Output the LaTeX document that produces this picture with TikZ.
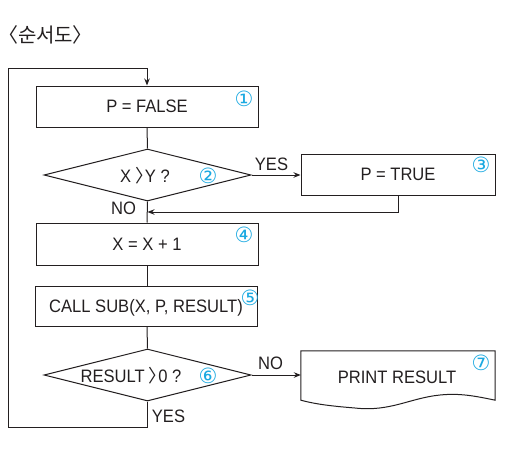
\documentclass[tikz,border=0pt]{standalone}
\usepackage{fontspec}
\setmainfont[FakeStretch=0.92]{Liberation Sans}
\newfontfamily\kr[RawFeature=+palt]{Noto Sans CJK KR}
\newfontfamily\dv{DejaVu Sans}
\usetikzlibrary{shapes.geometric,arrows.meta}
\definecolor{ink}{HTML}{231F20}
\definecolor{cy}{HTML}{1BA9E1}
\begin{document}
\begin{tikzpicture}[x=1pt,y=-1pt,
  every node/.style={font=\fontsize{18}{21}\selectfont, text=ink},
  txt/.style={inner sep=0pt, text height=12.9pt, text depth=0pt},
  proc/.style={txt, draw=ink, line width=1pt, minimum width=222pt, minimum height=41pt},
  dec/.style={diamond, draw=ink, line width=1pt, minimum width=207pt, minimum height=52pt, inner sep=0pt},
  num/.style={font=\dv\fontsize{21}{21}\selectfont, text=cy, inner sep=0pt},
  conn/.style={line width=1pt, draw=ink},
  arr/.style={conn, -{Stealth[length=7pt,width=5.5pt]}}]
\useasboundingbox (0,0) rectangle (528,448);

\node[anchor=west, inner sep=1pt, font=\kr\fontsize{20}{22}\selectfont] (title) at (7,35) {〈순서도〉};

\node[proc] (b1) at (147,106.5) {P = FALSE};
\node[dec] (d1) at (147.5,175) {};
\node[txt] (t1) at (145,176) {X {\kr 〉}Y ?};
\node[proc, minimum width=194pt] (b3) at (398,174.5) {P = TRUE};
\node[proc, minimum height=42pt] (b4) at (147,244) {X = X + 1};
\node[proc, minimum height=40pt] (b5) at (146,306) {CALL SUB(X, P, RESULT)};
\node[dec] (d2) at (147.5,375) {};
\node[txt] (t2) at (131,376) {RESULT {\kr 〉}0 ?};
\node[txt, minimum width=194pt, minimum height=49pt] (doc) at (398,375.5) {};
\node[txt] (t7) at (397,377) {PRINT RESULT};
\draw[conn] (doc.north west) -- (doc.north east) -- (doc.south east)
  .. controls (475,396) and (460,393) .. (440,395)
  .. controls (410,398) and (390,412) .. (355,408)
  .. controls (330,406) and (315,404) .. (doc.south west) -- cycle;

\node[num] (n1) at (244,99) {①};
\node[num] (n2) at (208,176) {②};
\node[num] (n3) at (481,165) {③};
\node[num] (n4) at (244,235) {④};
\node[num] (n5) at (250,298) {⑤};
\node[num] (n6) at (208,376) {⑥};
\node[num] (n7) at (481,363) {⑦};

\node[txt] (yes1) at (271.5,164) {YES};
\node[txt] (no1) at (123.5,208.5) {NO};
\node[txt] (no2) at (270.5,363) {NO};
\node[txt] (yes2) at (168.5,416) {YES};

\coordinate (m) at (147.5,212);
\coordinate (lb) at (8.5,427);
\coordinate (lt) at (8.5,68);

\draw[conn] (b1.south) -- (d1.north);
\draw[arr] (d1.east) -- (d1.east -| b3.west);
\draw[arr] (b3.south) |- (m);
\draw[conn] (d1.south) -- (b4.north);
\draw[conn] (b4.south -| b1.south) -- (b5.north -| b1.south);
\draw[conn] (b5.south -| b1.south) -- (d2.north);
\draw[arr] (d2.east) -- (d2.east -| doc.west);
\draw[arr] (d2.south) |- (lb) -- (lt) -| (b1.north);
\end{tikzpicture}
\end{document}
